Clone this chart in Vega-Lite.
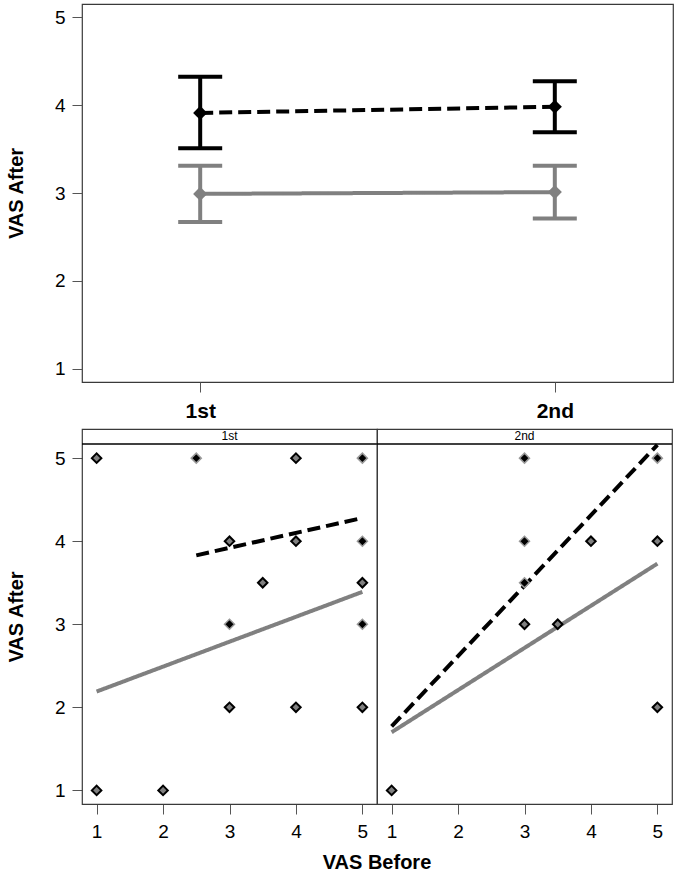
{
  "$schema": "https://vega.github.io/schema/vega-lite/v6.json",
  "padding": {"left": 5, "top": 3, "right": 4, "bottom": 1},
  "config": {
    "font": "Liberation Sans",
    "view": {"stroke": "#3a3a3a", "strokeWidth": 1.2},
    "axis": {"grid": false, "domain": false, "tickColor": "#555555", "tickSize": 10, "labelColor": "#000000", "titleColor": "#000000"}
  },
  "datasets": {
    "summary": [
      {"round": "1st", "group": "Group 1", "mean": 3.91, "lo": 3.51, "hi": 4.32},
      {"round": "2nd", "group": "Group 1", "mean": 3.98, "lo": 3.69, "hi": 4.27},
      {"round": "1st", "group": "Group 2", "mean": 2.99, "lo": 2.67, "hi": 3.31},
      {"round": "2nd", "group": "Group 2", "mean": 3.01, "lo": 2.71, "hi": 3.31}
    ],
    "scatter": [
      {"kind": "point", "round": "1st", "group": "Group 1", "before": 2.5, "after": 5},
      {"kind": "point", "round": "1st", "group": "Group 1", "before": 5, "after": 5},
      {"kind": "point", "round": "1st", "group": "Group 1", "before": 5, "after": 4},
      {"kind": "point", "round": "1st", "group": "Group 1", "before": 3, "after": 3},
      {"kind": "point", "round": "1st", "group": "Group 1", "before": 5, "after": 3},
      {"kind": "point", "round": "1st", "group": "Group 2", "before": 1, "after": 5},
      {"kind": "point", "round": "1st", "group": "Group 2", "before": 4, "after": 5},
      {"kind": "point", "round": "1st", "group": "Group 2", "before": 3, "after": 4},
      {"kind": "point", "round": "1st", "group": "Group 2", "before": 4, "after": 4},
      {"kind": "point", "round": "1st", "group": "Group 2", "before": 3.5, "after": 3.5},
      {"kind": "point", "round": "1st", "group": "Group 2", "before": 5, "after": 3.5},
      {"kind": "point", "round": "1st", "group": "Group 2", "before": 3, "after": 2},
      {"kind": "point", "round": "1st", "group": "Group 2", "before": 4, "after": 2},
      {"kind": "point", "round": "1st", "group": "Group 2", "before": 5, "after": 2},
      {"kind": "point", "round": "1st", "group": "Group 2", "before": 1, "after": 1},
      {"kind": "point", "round": "1st", "group": "Group 2", "before": 2, "after": 1},
      {"kind": "point", "round": "2nd", "group": "Group 1", "before": 3, "after": 5},
      {"kind": "point", "round": "2nd", "group": "Group 1", "before": 5, "after": 5},
      {"kind": "point", "round": "2nd", "group": "Group 1", "before": 3, "after": 4},
      {"kind": "point", "round": "2nd", "group": "Group 1", "before": 3, "after": 3.5},
      {"kind": "point", "round": "2nd", "group": "Group 2", "before": 4, "after": 4},
      {"kind": "point", "round": "2nd", "group": "Group 2", "before": 5, "after": 4},
      {"kind": "point", "round": "2nd", "group": "Group 2", "before": 3, "after": 3},
      {"kind": "point", "round": "2nd", "group": "Group 2", "before": 3.5, "after": 3},
      {"kind": "point", "round": "2nd", "group": "Group 2", "before": 5, "after": 2},
      {"kind": "point", "round": "2nd", "group": "Group 2", "before": 1, "after": 1},
      {"kind": "fit", "round": "1st", "group": "Group 1", "before": 2.5, "after": 3.83},
      {"kind": "fit", "round": "1st", "group": "Group 1", "before": 5, "after": 4.28},
      {"kind": "fit", "round": "1st", "group": "Group 2", "before": 1, "after": 2.19},
      {"kind": "fit", "round": "1st", "group": "Group 2", "before": 5, "after": 3.39},
      {"kind": "fit", "round": "2nd", "group": "Group 1", "before": 1, "after": 1.77},
      {"kind": "fit", "round": "2nd", "group": "Group 1", "before": 5, "after": 5.16},
      {"kind": "fit", "round": "2nd", "group": "Group 2", "before": 1, "after": 1.7},
      {"kind": "fit", "round": "2nd", "group": "Group 2", "before": 5, "after": 3.73}
    ]
  },
  "spacing": 6,
  "vconcat": [
    {
      "data": {"name": "summary"},
      "width": 591,
      "height": 378,
      "encoding": {
        "x": {
          "field": "round", "type": "ordinal",
          "scale": {"type": "point", "padding": 0.3333},
          "axis": {"title": null, "labelAngle": 0, "labelFontSize": 21, "labelFontWeight": "bold", "labelPadding": 8}
        }
      },
      "layer": [
        {
          "mark": {"type": "line", "strokeWidth": 4},
          "encoding": {
            "y": {"field": "mean", "type": "quantitative", "scale": {"domain": [0.852, 5.148], "nice": false, "zero": false},
              "axis": {"values": [1, 2, 3, 4, 5], "format": "d", "title": "VAS After", "titleFontSize": 20, "titleFontWeight": "bold", "titlePadding": 28, "labelFontSize": 19, "labelPadding": 7}},
            "color": {"field": "group", "type": "nominal", "scale": {"domain": ["Group 1", "Group 2"], "range": ["#000000", "#808080"]}, "legend": null},
            "strokeDash": {"field": "group", "type": "nominal", "scale": {"domain": ["Group 1", "Group 2"], "range": [[13, 6], [1, 0]]}, "legend": null}
          }
        },
        {
          "mark": {"type": "rule", "strokeWidth": 4, "opacity": 1},
          "encoding": {
            "y": {"field": "lo", "type": "quantitative"},
            "y2": {"field": "hi"},
            "color": {"field": "group", "type": "nominal", "legend": null}
          }
        },
        {
          "mark": {"type": "tick", "size": 44, "thickness": 4, "opacity": 1},
          "encoding": {
            "y": {"field": "lo", "type": "quantitative"},
            "color": {"field": "group", "type": "nominal", "legend": null}
          }
        },
        {
          "mark": {"type": "tick", "size": 44, "thickness": 4, "opacity": 1},
          "encoding": {
            "y": {"field": "hi", "type": "quantitative"},
            "color": {"field": "group", "type": "nominal", "legend": null}
          }
        },
        {
          "mark": {"type": "point", "shape": "diamond", "filled": true, "size": 200, "opacity": 1},
          "encoding": {
            "y": {"field": "mean", "type": "quantitative"},
            "color": {"field": "group", "type": "nominal", "legend": null}
          }
        }
      ]
    },
    {
      "data": {"name": "scatter"},
      "facet": {"column": {"field": "round", "type": "nominal", "title": "VAS Before",
        "header": {"labels": false, "titleOrient": "bottom", "titleFontSize": 20, "titleFontWeight": "bold", "titleColor": "#000000", "titlePadding": 2}}},
      "spacing": 0,
      "bounds": "flush",
      "spec": {
        "width": 295,
        "height": 375,
        "encoding": {
          "x": {"field": "before", "type": "quantitative", "scale": {"domain": [0.78, 5.22], "nice": false, "zero": false},
            "axis": {"values": [1, 2, 3, 4, 5], "format": "d", "title": null, "labelFontSize": 19, "labelPadding": 8}},
          "y": {"field": "after", "type": "quantitative", "scale": {"domain": [0.836, 5.351], "nice": false, "zero": false},
            "axis": {"values": [1, 2, 3, 4, 5], "format": "d", "title": "VAS After", "titleFontSize": 20, "titleFontWeight": "bold", "titlePadding": 28, "labelFontSize": 19, "labelPadding": 7}}
        },
        "layer": [
          {
            "transform": [{"filter": "datum.kind === 'fit'"}],
            "mark": {"type": "line", "strokeWidth": 4},
            "encoding": {
              "color": {"field": "group", "type": "nominal", "scale": {"domain": ["Group 1", "Group 2"], "range": ["#000000", "#808080"]}, "legend": null},
              "strokeDash": {"field": "group", "type": "nominal", "scale": {"domain": ["Group 1", "Group 2"], "range": [[12, 6], [1, 0]]}, "legend": null}
            }
          },
          {
            "transform": [{"filter": "datum.kind === 'point' && datum.group === 'Group 2'"}],
            "mark": {"type": "point", "shape": "diamond", "filled": true, "size": 90, "fill": "#808080", "stroke": "#000000", "strokeWidth": 2, "opacity": 1},
            "encoding": {}
          },
          {
            "transform": [{"filter": "datum.kind === 'point' && datum.group === 'Group 1'"}],
            "mark": {"type": "point", "shape": "diamond", "filled": true, "size": 100, "fill": "#000000", "stroke": "#9a9a9a", "strokeWidth": 1.5, "opacity": 1},
            "encoding": {}
          },
          {
            "transform": [{"filter": "datum.kind === 'fit' && datum.group === 'Group 2' && datum.before === 5"}],
            "mark": {"type": "rule", "color": "#000000", "strokeWidth": 1.5},
            "encoding": {"x": {"datum": 0.78}, "x2": {"datum": 5.22}, "y": {"datum": 5.171}}
          },
          {
            "transform": [{"filter": "datum.kind === 'fit' && datum.group === 'Group 2' && datum.before === 5"}],
            "mark": {"type": "text", "fontSize": 12, "color": "#000000"},
            "encoding": {"x": {"datum": 3}, "y": {"datum": 5.262}, "text": {"field": "round"}}
          }
        ]
      }
    }
  ]
}
